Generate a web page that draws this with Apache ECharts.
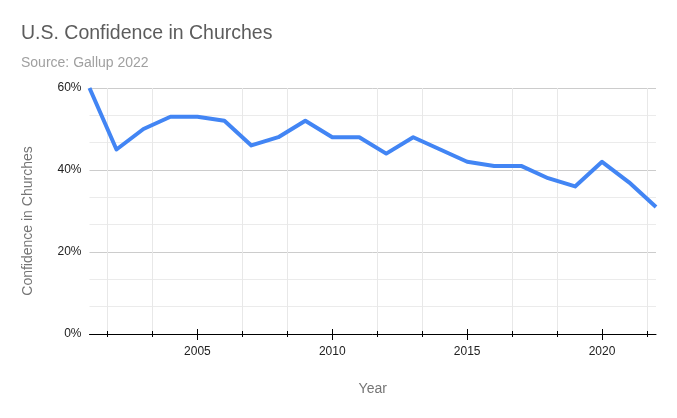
<!DOCTYPE html>
<html>
<head>
<meta charset="utf-8">
<script src="https://cdn.jsdelivr.net/npm/echarts@6/dist/echarts.min.js"></script>
<style>
html,body{margin:0;padding:0;background:#fff;}
#c{width:677px;height:418px;}
</style>
</head>
<body>
<div id="c"></div>
<script>
const years = [2001,2002,2003,2004,2005,2006,2007,2008,2009,2010,2011,2012,2013,2014,2015,2016,2017,2018,2019,2020,2021,2022];
const confidence = [60,45,50,53,53,52,46,48,52,48,48,44,48,45,42,41,41,38,36,42,37,31];
const majorYearTicks = [2005,2010,2015,2020];
const minorYearTicks = [2001.667,2003.333,2006.667,2008.333,2011.667,2013.333,2016.667,2018.333,2021.667];
const yTicks = [0,20,40,60];

const chart = echarts.init(document.getElementById('c'));
const xBase = {
  type:'value', min:2001, max:2022, position:'bottom',
  axisLine:{show:false}, axisLabel:{show:false}, splitLine:{show:false}
};
chart.setOption({
  animation:false,
  backgroundColor:'#ffffff',
  title:[
    {text:'U.S. Confidence in Churches', left:16, top:19,
     textStyle:{fontFamily:'Arial', fontSize:19.5, fontWeight:'normal', color:'#5c5c5c'}},
    {text:'Source: Gallup 2022', left:16, top:51,
     textStyle:{fontFamily:'Arial', fontSize:14, fontWeight:'normal', color:'#a0a0a0'}}
  ],
  grid:{left:89.5, right:21, top:88, bottom:84, containLabel:false, outerBoundsMode:'none'},
  xAxis:[
    {type:'value', min:2001, max:2022, position:'bottom',
     name:'Year', nameLocation:'middle', nameGap:48,
     nameTextStyle:{fontFamily:'Arial', fontSize:14, color:'#757575'},
     axisLine:{show:true, onZero:false, lineStyle:{color:'#000', width:1}},
     axisTick:{show:true, customValues:majorYearTicks, length:6, lineStyle:{color:'#000'}},
     axisLabel:{show:true, customValues:majorYearTicks, margin:12, fontFamily:'Arial', fontSize:12, color:'#222',
       formatter:v=>String(v)},
     splitLine:{show:false}},
    Object.assign({}, xBase, {axisTick:{show:true, inside:true, customValues:majorYearTicks, length:5, lineStyle:{color:'#000'}}}),
    Object.assign({}, xBase, {axisTick:{show:true, customValues:minorYearTicks, length:3, lineStyle:{color:'#000'}},
       splitLine:{show:true, lineStyle:{color:'#e8e8e8', width:1}}}),
    Object.assign({}, xBase, {axisTick:{show:true, inside:true, customValues:minorYearTicks, length:3, lineStyle:{color:'#000'}}})
  ],
  yAxis:{
    type:'value', min:yTicks[0], max:yTicks[yTicks.length-1], interval:20,
    name:'Confidence in Churches', nameLocation:'middle', nameGap:54, nameRotate:90,
    nameTextStyle:{fontFamily:'Arial', fontSize:14, color:'#757575', padding:[0,20,0,0]},
    axisLine:{show:false}, axisTick:{show:false},
    axisLabel:{margin:8, fontFamily:'Arial', fontSize:12, color:'#222', formatter:v=>v+'%'},
    splitLine:{show:true, lineStyle:{color:'#cccccc', width:1}},
    minorTick:{show:false, splitNumber:3},
    minorSplitLine:{show:true, lineStyle:{color:'#ebebeb', width:1}}
  },
  series:[{
    type:'line', xAxisIndex:0,
    data:years.map((y,i)=>[y, confidence[i]]),
    showSymbol:false, symbol:'none', smooth:false, clip:false,
    lineStyle:{color:'#4285f4', width:4, join:'round'},
    z:5
  }]
});
</script>
</body>
</html>
